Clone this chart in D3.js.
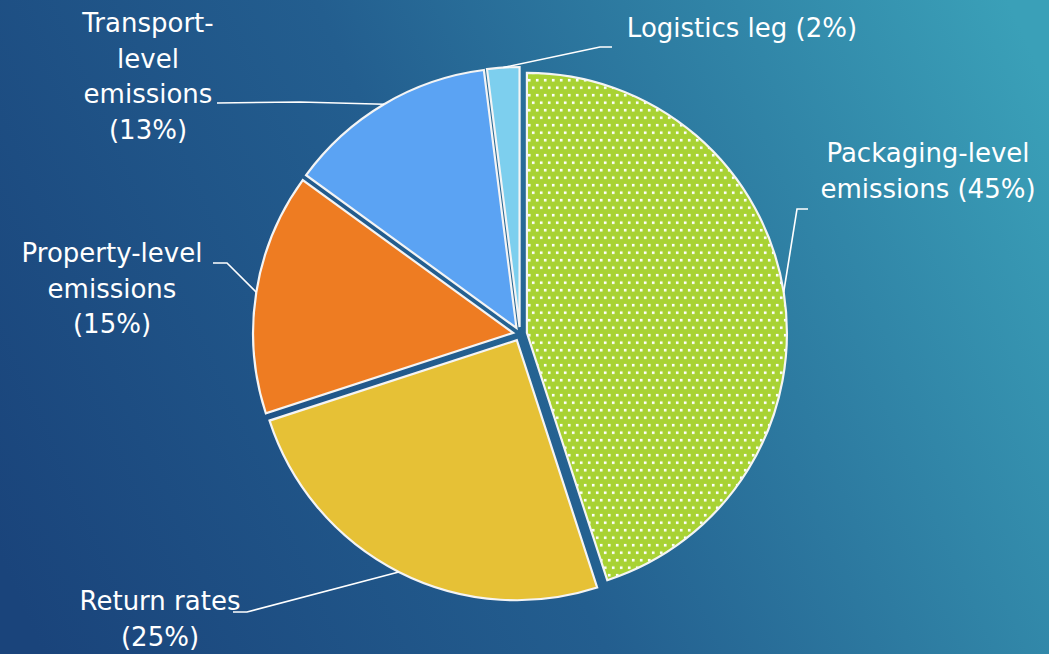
<!DOCTYPE html>
<html>
<head>
<meta charset="utf-8">
<script src="https://cdn.jsdelivr.net/npm/d3@7"></script>
<style>
  html, body { margin: 0; padding: 0; background: #1d4d84; }
  svg { display: block; }
</style>
</head>
<body>
<svg id="chart" width="1049" height="654"></svg>
<script>
// Emission sources and their share (%)
const categories = ["Packaging-level emissions", "Return rates", "Property-level emissions", "Transport-level emissions", "Logistics leg"];
const values = [45, 25, 15, 13, 2];
const colors = ["#a8d233", "#e6c136", "#ee7c22", "#5ba3f3", "#7dcfee"];
// Label text, one entry per line
const labelLines = [
  ["Packaging-level", "emissions (45%)"],
  ["Return rates", "(25%)"],
  ["Property-level", "emissions", "(15%)"],
  ["Transport-", "level", "emissions", "(13%)"],
  ["Logistics leg (2%)"]
];

// Layout
const W = 1049, H = 654;
const cx = 520, cy = 334, R = 260, explode = 7;
const fontSize = 26, lineH = 35.5;
// label block: centre x, first baseline y; leader: start point and elbow
const labelLayout = [
  { x: 928, y: 162, lead: [[808, 209], [797, 209]] },
  { x: 160, y: 610, lead: [[233, 612], [247, 612]] },
  { x: 112, y: 262, lead: [[213, 263], [227, 263]] },
  { x: 148, y: 32,  lead: [[217, 103], [300, 102]] },
  { x: 742, y: 37,  lead: [[612, 47], [600, 47]] }
];

const svg = d3.select("#chart");
const defs = svg.append("defs");

// background gradient
const bg = defs.append("linearGradient").attr("id", "bg")
  .attr("gradientUnits", "userSpaceOnUse")
  .attr("x1", 0).attr("y1", 560).attr("x2", W).attr("y2", 90);
bg.append("stop").attr("offset", 0).attr("stop-color", "#1a447b");
bg.append("stop").attr("offset", 0.45).attr("stop-color", "#235e8f");
bg.append("stop").attr("offset", 1).attr("stop-color", "#3aa0b8");
svg.append("rect").attr("width", W).attr("height", H).attr("fill", "url(#bg)");

// dotted fill for the largest slice
const pat = defs.append("pattern").attr("id", "dots")
  .attr("patternUnits", "userSpaceOnUse").attr("width", 8).attr("height", 15);
pat.append("rect").attr("width", 8).attr("height", 15).attr("fill", colors[0]);
pat.append("rect").attr("x", 1).attr("y", 1).attr("width", 2.6).attr("height", 2.6).attr("fill", "#ffffff");
pat.append("rect").attr("x", 5).attr("y", 8.5).attr("width", 2.6).attr("height", 2.6).attr("fill", "#ffffff");

const pie = d3.pie().sort(null).value(d => d)(values);
const arc = d3.arc().innerRadius(0).outerRadius(R);
const rim = d3.arc().innerRadius(R).outerRadius(R);

const offset = d => {
  const a = (d.startAngle + d.endAngle) / 2;
  return [explode * Math.sin(a), -explode * Math.cos(a)];
};

const g = svg.append("g").attr("transform", `translate(${cx},${cy})`);
g.selectAll("path.slice").data(pie).join("path")
  .attr("class", "slice")
  .attr("transform", d => { const o = offset(d); return `translate(${o[0]},${o[1]})`; })
  .attr("d", arc)
  .attr("fill", (d, i) => i === 0 ? "url(#dots)" : colors[i])
  .attr("stroke", "#f4f4f4")
  .attr("stroke-width", 2.2)
  .attr("stroke-linejoin", "miter");

// leader lines, ending on the rim at each slice's mid-angle
pie.forEach((d, i) => {
  const o = offset(d);
  const c = rim.centroid(d);
  const end = [cx + o[0] + c[0], cy + o[1] + c[1]];
  const pts = labelLayout[i].lead.concat([end]);
  svg.append("path")
    .attr("d", d3.line()(pts))
    .attr("fill", "none")
    .attr("stroke", "#ffffff")
    .attr("stroke-width", 1.6);
});

// labels
labelLines.forEach((lines, i) => {
  const L = labelLayout[i];
  const t = svg.append("text")
    .attr("text-anchor", "middle")
    .attr("fill", "#ffffff")
    .attr("font-family", "'DejaVu Sans', sans-serif")
    .attr("font-size", fontSize);
  lines.forEach((s, k) => {
    t.append("tspan").attr("x", L.x).attr("y", L.y + k * lineH).text(s);
  });
});
</script>
</body>
</html>
